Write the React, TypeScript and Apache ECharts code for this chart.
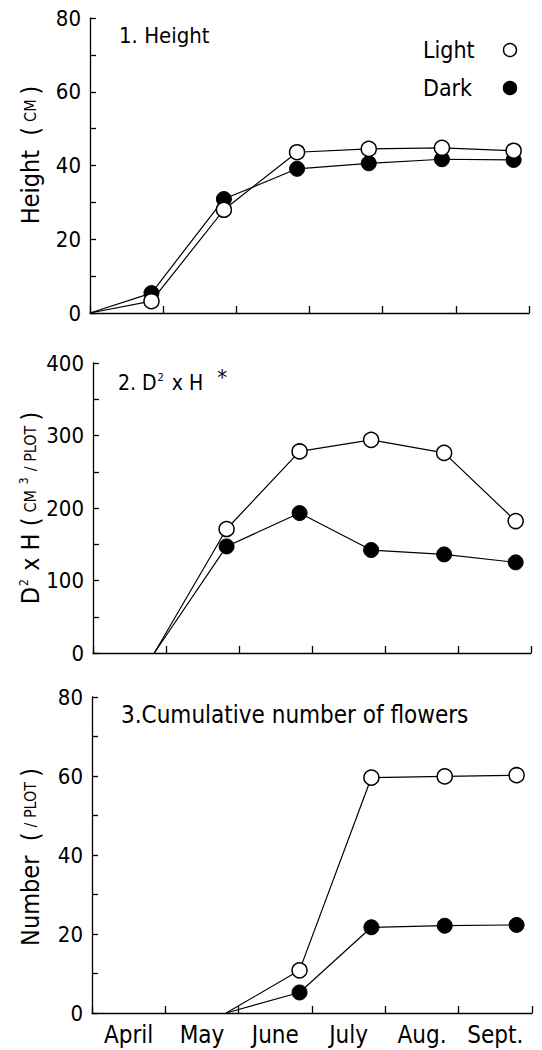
import React, { useEffect, useRef } from "react";
import * as echarts from "echarts";

// ---- data ----
const months = ["April", "May", "June", "July", "Aug.", "Sept."];
// sampling dates as month index (0 = start of April)
const sampleX = [0.84, 1.83, 2.83, 3.81, 4.81, 5.79];

const heightLight = [3.2, 28.0, 43.6, 44.5, 44.8, 44.0];
const heightDark = [5.4, 30.9, 39.1, 40.6, 41.7, 41.5];

const d2hLight = [0, 171, 278, 294, 276, 182];
const d2hDark = [0, 147, 193, 142, 136, 125];

const flowersLight = [0, 10.8, 59.6, 59.9, 60.2];
const flowersDark = [0, 5.2, 21.7, 22.1, 22.3];

const legendNames = ["Light", "Dark"];

const FONT = "'DejaVu Sans Condensed', 'Liberation Sans Narrow', 'DejaVu Sans', sans-serif";

function pts(xs: number[], ys: number[], origin?: [number, number]) {
  const out: any[] = [];
  if (origin) out.push({ value: origin, symbol: "none" });
  ys.forEach((y, i) => {
    const x = xs[xs.length - ys.length + i];
    out.push(y === 0 ? { value: [x, y], symbol: "none" } : { value: [x, y] });
  });
  return out;
}

export default function App() {
  const ref = useRef<HTMLDivElement>(null);
  useEffect(() => {
    if (!ref.current) return;
    const chart = echarts.init(ref.current, null, { renderer: "svg" });

    const grids = [
      { left: 90, top: 18, width: 439, height: 295 },
      { left: 93, top: 363, width: 438, height: 290 },
      { left: 92, top: 697, width: 440, height: 316 },
    ];

    const axisLine = { show: true, lineStyle: { color: "#000", width: 1.3 } };

    const xAxes: any[] = [];
    grids.forEach((_, i) => {
      xAxes.push({
        type: "value",
        gridIndex: i,
        position: "bottom",
        min: 0,
        max: 6,
        show: false,
      });
      xAxes.push({
        type: "category",
        gridIndex: i,
        position: "bottom",
        data: months,
        boundaryGap: true,
        axisLine,
        axisTick: { show: true, inside: true, length: 7, lineStyle: { color: "#000", width: 1.3 } },
        axisLabel: {
          show: i === 2,
          color: "#000",
          fontFamily: FONT,
          fontSize: 24,
          margin: 10,
        },
        splitLine: { show: false },
      });
    });

    const yDefs = [
      { max: 80, interval: 10, labelStep: 20 },
      { max: 400, interval: 50, labelStep: 100 },
      { max: 80, interval: 10, labelStep: 20 },
    ];
    const yAxes = yDefs.map((d, i) => ({
      type: "value",
      gridIndex: i,
      min: 0,
      max: d.max,
      interval: d.interval,
      axisLine,
      axisTick: { show: true, inside: true, length: 6, lineStyle: { color: "#000", width: 1.3 } },
      axisLabel: {
        color: "#000",
        fontFamily: FONT,
        fontSize: 22,
        margin: 9,
        formatter: (v: number) => (v % d.labelStep === 0 ? String(v) : ""),
      },
      splitLine: { show: false },
    }));

    const lightStyle = {
      type: "line",
      symbol: "circle",
      symbolSize: 15,
      itemStyle: { color: "#fff", borderColor: "#000", borderWidth: 1.5 },
      lineStyle: { color: "#000", width: 1.2 },
      z: 3,
    };
    const darkStyle = {
      type: "line",
      symbol: "circle",
      symbolSize: 15,
      itemStyle: { color: "#000", borderColor: "#000", borderWidth: 1 },
      lineStyle: { color: "#000", width: 1.2 },
      z: 2,
    };

    const series: any[] = [
      { ...darkStyle, name: "Dark", xAxisIndex: 0, yAxisIndex: 0, data: pts(sampleX, heightDark, [0, 0]) },
      { ...lightStyle, name: "Light", xAxisIndex: 0, yAxisIndex: 0, data: pts(sampleX, heightLight, [0, 0]) },
      { ...darkStyle, name: "Dark", xAxisIndex: 2, yAxisIndex: 1, data: pts(sampleX, d2hDark) },
      { ...lightStyle, name: "Light", xAxisIndex: 2, yAxisIndex: 1, data: pts(sampleX, d2hLight) },
      { ...darkStyle, name: "Dark", xAxisIndex: 4, yAxisIndex: 2, data: pts(sampleX, flowersDark) },
      { ...lightStyle, name: "Light", xAxisIndex: 4, yAxisIndex: 2, data: pts(sampleX, flowersLight) },
    ];

    const txt = (x: number, y: number, text: string, size: number, rich: any = {}) => ({
      type: "text",
      x,
      y,
      style: {
        text,
        fill: "#000",
        fontFamily: FONT,
        fontSize: size,
        textAlign: "left",
        textVerticalAlign: "middle",
        rich,
      },
    });

    const sc = { fontSize: 16, fontFamily: FONT, fill: "#000", padding: [0, 5, 0, 5] };
    const nm = { fontSize: 25, fontFamily: FONT, fill: "#000" };

    const rotName = (y: number, text: string, rich: any) => ({
      type: "text",
      x: 30,
      y,
      rotation: Math.PI / 2,
      style: {
        text,
        rich,
        textAlign: "center",
        textVerticalAlign: "middle",
        fill: "#000",
      },
    });

    const graphic: any[] = [
      txt(119, 35, "1. Height", 22),
      txt(118, 383, "{n|2. D}{sup|2}{n| x H}{star|*}", 21, {
        n: { fontSize: 21, fontFamily: FONT, fill: "#000" },
        sup: { fontSize: 11, fontFamily: FONT, fill: "#000", padding: [0, 2, 12, 1] },
        star: { fontSize: 22, fontFamily: FONT, fill: "#000", padding: [0, 0, 12, 14] },
      }),
      txt(121, 715, "3.Cumulative number of flowers", 24),
      rotName(155, "{n|Height  (}{s|CM}{n|)}", { n: nm, s: sc }),
      rotName(508, "{n|D}{sup|2}{n| x H (}{s|CM}{sup|3}{s|/ PLOT}{n|)}", {
        n: nm,
        s: sc,
        sup: { fontSize: 12, fontFamily: FONT, fill: "#000", padding: [0, 1, 13, 1] },
      }),
      rotName(857, "{n|Number  (}{s|/ PLOT}{n|)}", { n: nm, s: sc }),
    ];

    // legend (text left, symbol right)
    const legendRows = [50, 88];
    legendNames.forEach((name, i) => {
      graphic.push(txt(423, legendRows[i], name, 23));
      graphic.push({
        type: "circle",
        shape: { cx: 510, cy: legendRows[i], r: 6.5 },
        style: {
          fill: name === "Light" ? "#fff" : "#000",
          stroke: "#000",
          lineWidth: 1.4,
        },
      });
    });

    chart.setOption({
      animation: false,
      backgroundColor: "#fff",
      grid: grids,
      xAxis: xAxes,
      yAxis: yAxes,
      graphic,
      series,
    });
    return () => chart.dispose();
  }, []);
  return (
    <div
      ref={ref}
      style={{ position: "fixed", left: 0, top: 0, width: 542, height: 1050, background: "#fff" }}
    />
  );
}
